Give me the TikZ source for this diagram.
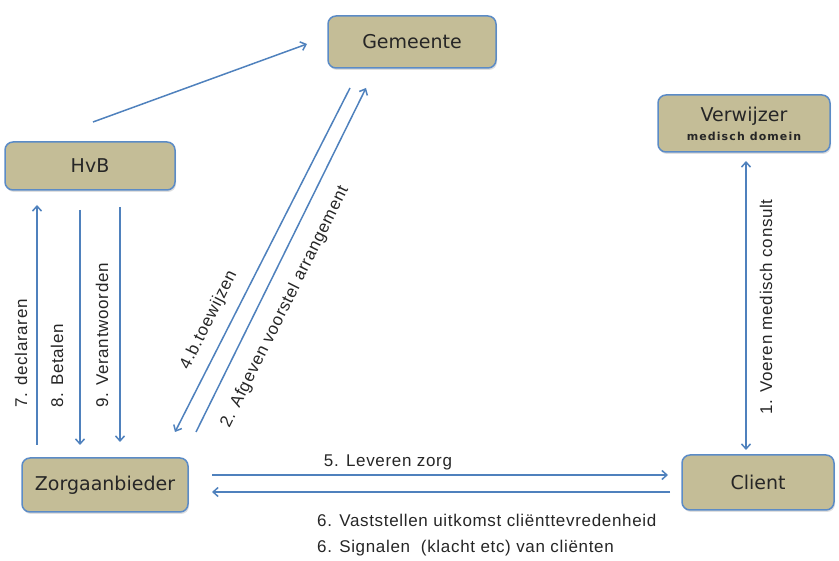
\documentclass[tikz,border=0pt]{standalone}
\usepackage{fontspec}
\setmainfont[LetterSpace=4]{Liberation Sans}
\newfontfamily\boxfont{DejaVu Sans}
\newfontfamily\smallboxfont[LetterSpace=10]{DejaVu Sans}
\usetikzlibrary{arrows.meta,shadows}
\definecolor{boxfill}{HTML}{C4BD97}
\definecolor{boxline}{HTML}{5B8BC6}
\definecolor{arrowblue}{HTML}{4F81BD}
\begin{document}
\begin{tikzpicture}[x=1pt,y=-1pt,
 entity/.style={draw=boxline, line width=1.5pt, fill=boxfill, rounded corners=8pt,
   drop shadow={opacity=0.25, shadow xshift=1pt, shadow yshift=-2pt},
   font=\boxfont\fontsize{19}{22}\selectfont, inner sep=0pt, align=center, text=black!85},
 flow/.style={draw=arrowblue, line width=1.5pt, -{Straight Barb[length=5pt,width=9pt]}},
 lbl/.style={font=\fontsize{17}{19}\selectfont, inner sep=0pt, text=black!85}]
\useasboundingbox (0,0) rectangle (839,561);

\node[entity, minimum width=168pt, minimum height=52pt] (gem) at (412,42) {Gemeente};
\node[entity, minimum width=172pt, minimum height=57pt] (ver) at (744,123.5) {Verwijzer\\[-3pt]{\smallboxfont\bfseries\fontsize{11}{13}\selectfont medisch domein}};
\node[entity, minimum width=170pt, minimum height=48pt] (hvb) at (90,166) {HvB};
\node[entity, minimum width=166pt, minimum height=54pt] (zorg) at (105,485) {Zorgaanbieder};
\node[entity, minimum width=152pt, minimum height=55pt] (cli) at (758,482.5) {Client};

\coordinate (hvbA) at (93,122);  \coordinate (gemA) at (307,44);
\coordinate (g4) at (350,88);    \coordinate (z4) at (175,432);
\coordinate (z2) at (196,432);   \coordinate (g2) at (366,88);
\coordinate (z7) at (37,445);    \coordinate (h7) at (37,205);
\coordinate (h8) at (80,210);    \coordinate (z8) at (80,445);
\coordinate (h9) at (120,207);   \coordinate (z9) at (120,442);
\coordinate (c1) at (746,450);   \coordinate (v1) at (746,161);
\coordinate (z5) at (212,475);   \coordinate (c5) at (668,475);
\coordinate (c6) at (670,492);   \coordinate (z6) at (212,492);

\draw[flow] (hvbA) -- (gemA);
\draw[flow] (g4) -- (z4);
\draw[flow] (z2) -- (g2);
\draw[flow] (z7) -- (h7);
\draw[flow] (h8) -- (z8);
\draw[flow] (h9) -- (z9);
\draw[flow, {Straight Barb[length=5pt,width=9pt]}-{Straight Barb[length=5pt,width=9pt]}] (c1) -- (v1);
\draw[flow] (z5) -- (c5);
\draw[flow] (c6) -- (z6);

\node[lbl, rotate=90, anchor=west] (l7) at (21,408) {7. declararen};
\node[lbl, rotate=90, anchor=west] (l8) at (57,408) {8. Betalen};
\node[lbl, rotate=90, anchor=west] (l9) at (102,408) {9. Verantwoorden};
\node[lbl, rotate=90, anchor=west] (l1) at (766,415) {1. Voeren medisch consult};
\node[lbl, rotate=63.5] (l4) at (209,320) {4.b.toewijzen};
\node[lbl, rotate=63.5] (l2) at (285,307) {2. Afgeven voorstel arrangement};
\node[lbl] (l5) at (388,462) {5. Leveren zorg};
\node[lbl, anchor=west] (l6a) at (317,520) {6. Vaststellen uitkomst cliënttevredenheid};
\node[lbl, anchor=west] (l6b) at (317,548) {6. Signalen\ \ (klacht etc) van cliënten};
\end{tikzpicture}
\end{document}
